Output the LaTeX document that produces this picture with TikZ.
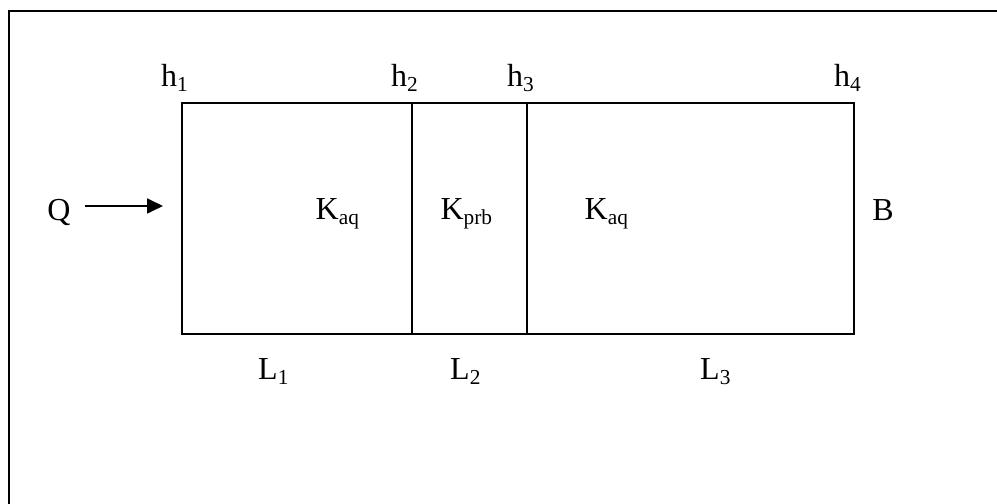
\documentclass[tikz,border=0pt]{standalone}
\usepackage{fontspec}
\setmainfont{Liberation Serif}
\usetikzlibrary{arrows.meta}

\begin{document}
\begin{tikzpicture}[
        x=0.375pt, y=-0.375pt,
        every node/.style={font=\fontsize{12}{14}\selectfont, inner sep=0pt, anchor=base},
        wall/.style={draw, line width=0.75pt},
        frame/.style={draw, line width=0.8pt},
        flow/.style={-{Triangle[length=6pt, width=5.6pt]}, line width=0.75pt}
    ]
    \useasboundingbox (0,0) rectangle (997,504);
    \clip (0,0) rectangle (997,504);

    % outer frame (only its top and left side lie inside the picture)
    \draw[frame] (997,11) -- (9,11) -- (9,504);

    % aquifer and barrier
    \coordinate (topleft) at (182,103);
    \coordinate (botright) at (854,334);
    \coordinate (wallatop) at (412,103);
    \coordinate (wallabot) at (412,334);
    \coordinate (wallbtop) at (527,103);
    \coordinate (wallbbot) at (527,334);
    \draw[wall] (topleft) rectangle (botright);
    \draw[wall] (wallatop) -- (wallabot);
    \draw[wall] (wallbtop) -- (wallbbot);

    % heads
    \node (h1) at (175,87) {h\textsubscript{1}};
    \node (h2) at (405,87) {h\textsubscript{2}};
    \node (h3) at (521,87) {h\textsubscript{3}};
    \node (h4) at (848,87) {h\textsubscript{4}};

    % conductivities
    \node (kaqa) at (338,220) {K\textsubscript{aq}};
    \node (kprb) at (467,220) {K\textsubscript{prb}};
    \node (kaqb) at (607,220) {K\textsubscript{aq}};

    % inflow and boundary
    \node (q) at (59,221) {Q};
    \node (b) at (883,221) {B};
    \coordinate (qtail) at (85,206);
    \coordinate (qtip) at (163,206);
    \draw[flow] (qtail) -- (qtip);

    % lengths
    \node (l1) at (274,380) {L\textsubscript{1}};
    \node (l2) at (466,380) {L\textsubscript{2}};
    \node (l3) at (716,380) {L\textsubscript{3}};
\end{tikzpicture}
\end{document}
